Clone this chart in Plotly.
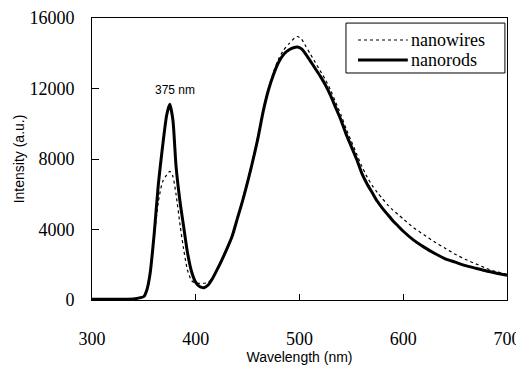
import plotly.graph_objects as go

wavelength = [300, 320, 340, 346, 350, 353, 356, 360, 364, 368, 372, 375, 378, 381, 385, 388,
              392, 396, 400, 404, 408, 412, 416, 420, 425, 430, 435, 440, 445, 450, 455, 460,
              465, 470, 475, 480, 485, 490, 495, 498, 502, 506, 510, 515, 520, 525, 530, 535,
              540, 545, 550, 555, 560, 565, 570, 575, 580, 585, 590, 595, 600, 610, 620, 630,
              640, 650, 660, 670, 680, 690, 700]

nanorods = [40, 40, 60, 120, 200, 600, 1500, 3800, 6600, 8700, 10500, 11100, 10200, 7600, 5500, 4300,
            2700, 1600, 1000, 750, 700, 850, 1200, 1650, 2250, 2900, 3600, 4600, 5600, 6700, 7900, 9200,
            10700, 11900, 12800, 13500, 13950, 14200, 14330, 14350, 14250, 13950, 13600, 13150, 12700, 12200, 11600, 10900,
            10200, 9400, 8700, 8000, 7200, 6600, 6100, 5600, 5200, 4850, 4500, 4200, 3900, 3400, 3000, 2650,
            2350, 2150, 1950, 1800, 1650, 1520, 1400]

nanowires = [40, 40, 60, 120, 200, 600, 1500, 3600, 5600, 6700, 7100, 7300, 7000, 6000, 4200, 3000,
             1700, 1100, 950, 950, 950, 1000, 1250, 1700, 2300, 2950, 3650, 4650, 5700, 6800, 8000, 9300,
             10800, 12000, 12950, 13700, 14200, 14550, 14850, 14950, 14800, 14400, 14000, 13500, 13000, 12500, 11900, 11200,
             10500, 9700, 9000, 8300, 7600, 7000, 6500, 6100, 5750, 5400, 5100, 4850, 4600, 4100, 3700, 3300,
             2950, 2600, 2300, 2050, 1800, 1600, 1450]

x_ticks = [300, 400, 500, 600, 700]
y_ticks = [0, 4000, 8000, 12000, 16000]
y_tick_labels = ["0", "4000", "8000", "12000", "16000"]
series_names = ["nanowires", "nanorods"]

serif = "Liberation Serif, serif"
sans = "Liberation Sans, Arial, sans-serif"

fig = go.Figure()
fig.add_trace(go.Scatter(x=wavelength, y=nanowires, mode="lines", name=series_names[0],
                         line=dict(color="black", width=1.2, dash="dot", shape="spline", smoothing=0.6),
                         showlegend=False))
fig.add_trace(go.Scatter(x=wavelength, y=nanorods, mode="lines", name=series_names[1],
                         line=dict(color="black", width=3, shape="spline", smoothing=0.6),
                         showlegend=False))

fig.add_annotation(x=380, y=11900, text="375 nm", showarrow=False,
                   font=dict(family=sans, size=12, color="black"))

# legend drawn as a framed box in paper coordinates
fig.add_shape(type="rect", xref="paper", yref="paper", x0=0.612, x1=0.995, y0=0.805, y1=0.982,
              line=dict(color="black", width=1), fillcolor="white", layer="above")
fig.add_shape(type="line", xref="paper", yref="paper", x0=0.641, x1=0.761, y0=0.922, y1=0.922,
              line=dict(color="black", width=1.2, dash="dot"), layer="above")
fig.add_shape(type="line", xref="paper", yref="paper", x0=0.641, x1=0.761, y0=0.851, y1=0.851,
              line=dict(color="black", width=3), layer="above")
for name, yp in zip(series_names, [0.922, 0.851]):
    fig.add_annotation(xref="paper", yref="paper", x=0.764, y=yp, text=name, showarrow=False,
                       xanchor="left", yanchor="middle",
                       font=dict(family=serif, size=18, color="black"))

# the page body adds an 8px offset, so the figure is sized to fit the window
fig.update_layout(
    width=516, height=358,
    margin=dict(l=84, r=17, t=10, b=66),
    paper_bgcolor="white", plot_bgcolor="white",
    showlegend=False,
    xaxis=dict(range=[300, 700], tickvals=x_ticks, ticks="inside", ticklen=6,
               tickcolor="black", showline=True, linecolor="black", linewidth=1,
               mirror=True, showgrid=False, zeroline=False, automargin=False,
               tickfont=dict(family=serif, size=18, color="black"),
               ticklabelstandoff=22,
               title=dict(text="Wavelength (nm)", standoff=1,
                          font=dict(family=sans, size=14, color="black"))),
    yaxis=dict(range=[0, 16000], tickvals=y_ticks, ticktext=y_tick_labels, ticks="inside", ticklen=7,
               tickcolor="black", showline=True, linecolor="black", linewidth=1,
               mirror=True, showgrid=False, zeroline=False, automargin=False,
               tickfont=dict(family=serif, size=18, color="black"),
               ticklabelstandoff=13,
               title=dict(text="Intensity (a.u.)", standoff=1,
                          font=dict(family=sans, size=14, color="black"))),
)

fig.write_html("out.html")
